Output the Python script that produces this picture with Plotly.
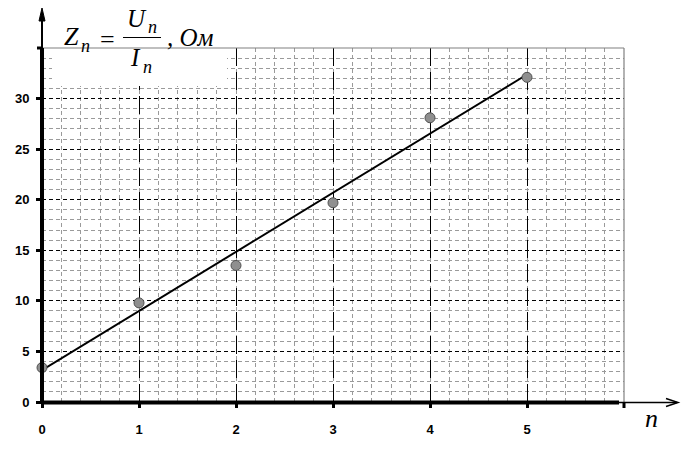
import numpy as np
import plotly.graph_objects as go

# ---- data ----
n_values = [0, 1, 2, 3, 4, 5]
z_values = [3.4, 9.8, 13.5, 19.7, 28.1, 32.1]
x_tick_vals = [0, 1, 2, 3, 4, 5]
x_tick_text = ["0", "1", "2", "3", "4", "5"]
y_tick_vals = [0, 5, 10, 15, 20, 25, 30]
y_tick_text = ["0", "5", "10", "15", "20", "25", "30"]

# least-squares trend line through the measured points
slope, intercept = np.polyfit(n_values, z_values, 1)
fit_x = [0, 5]
fit_y = [intercept + slope * v for v in fit_x]

W, H = 687, 450
L, R, T, B = 42, 624, 48, 402  # plot area in page pixels


def px(x):
    return (x - L) / (R - L)


def py(y):
    return (B - y) / (B - T)


fig = go.Figure()
fig.add_trace(go.Scatter(x=fit_x, y=fit_y, mode="lines",
                         line=dict(color="black", width=2), hoverinfo="skip",
                         showlegend=False, cliponaxis=False))
fig.add_trace(go.Scatter(x=n_values, y=z_values, mode="markers",
                         marker=dict(size=10, color="#8f8f8f",
                                     line=dict(color="#505050", width=1)),
                         showlegend=False, cliponaxis=False))

tickfont = dict(family="Liberation Sans", size=13, color="black", weight="bold")

fig.update_xaxes(range=[0, 6], tickmode="array", tickvals=x_tick_vals,
                 ticktext=x_tick_text, ticks="outside", ticklen=5, tickwidth=3,
                 tickcolor="black", tickfont=tickfont, ticklabelstandoff=10,
                 showgrid=True, gridcolor="black", gridwidth=1,
                 griddash="18px,6px", zeroline=False, showline=False,
                 minor=dict(dtick=0.2, tick0=0, showgrid=True, gridcolor="#9a9a9a",
                            gridwidth=1, griddash="4px,3px", ticks=""),
                 automargin=False, fixedrange=True)
fig.update_yaxes(range=[0, 35], tickmode="array", tickvals=y_tick_vals,
                 ticktext=y_tick_text, ticks="outside", ticklen=5, tickwidth=3,
                 tickcolor="black", tickfont=tickfont, ticklabelstandoff=4,
                 showgrid=True, gridcolor="black", gridwidth=1,
                 griddash="4px,3px", zeroline=False, showline=False,
                 minor=dict(dtick=1, tick0=0, showgrid=True, gridcolor="#9a9a9a",
                            gridwidth=1, griddash="4px,3px", ticks=""),
                 automargin=False, fixedrange=True)

shapes = []


def seg(x0, y0, x1, y1, color="black", width=1):
    shapes.append(dict(type="line", xref="paper", yref="paper",
                       x0=px(x0), y0=py(y0), x1=px(x1), y1=py(y1),
                       line=dict(color=color, width=width)))


# white box behind the formula
shapes.append(dict(type="rect", xref="paper", yref="paper",
                   x0=px(52), x1=px(227), y0=py(86), y1=py(2),
                   fillcolor="white", line=dict(width=0), layer="above"))
# gray frame top / right
seg(L, T, R, T, color="#808080", width=1.2)
seg(R, T, R, B, color="#808080", width=1.2)
# extra ticks (6 on x, 35 on y)
seg(R, B, R, B + 6, width=3)
seg(L - 5, T, L, T, width=3)
# axes
seg(L, B + 1, L, T, width=4)
seg(L, T, L, 18, width=2)
seg(L - 1, B + 0.5, 619, B + 0.5, width=4)
seg(617, B + 0.5, 677, B + 0.5, width=1.5)
# arrowheads
shapes.append(dict(type="path", xref="paper", yref="paper",
                   path=f"M {px(39)},{py(21)} L {px(42)},{py(8)} L {px(45)},{py(21)} Z",
                   fillcolor="black", line=dict(color="black", width=1)))
shapes.append(dict(type="path", xref="paper", yref="paper",
                   path=f"M {px(666)},{py(398.5)} L {px(678)},{py(402.5)} L {px(666)},{py(406.5)}",
                   line=dict(color="black", width=1.5)))
# fraction bar
seg(123, 37.5, 161, 37.5, width=1.2)

annotations = []


def txt(x, y, s, size, anchor="center"):
    annotations.append(dict(xref="paper", yref="paper", x=px(x), y=py(y),
                            text=s, showarrow=False, xanchor=anchor,
                            yanchor="middle",
                            font=dict(family="Liberation Serif", size=size,
                                      color="black")))


txt(71.5, 36, "<i>Z</i>", 26)
txt(85, 46, "<i>n</i>", 18)
txt(107.5, 40, "=", 26)
txt(137, 18.5, "<i>U</i>", 25)
txt(152, 27, "<i>n</i>", 18)
txt(135, 57, "<i>I</i>", 25)
txt(147.5, 67, "<i>n</i>", 18)
txt(165, 37, "<i>, Ом</i>", 25, anchor="left")
txt(651, 418, "<i>n</i>", 26)

fig.update_layout(width=W, height=H,
                  margin=dict(l=L, r=W - R, t=T, b=H - B),
                  paper_bgcolor="white", plot_bgcolor="white",
                  shapes=shapes, annotations=annotations, showlegend=False)

fig.write_html("out.html", config={"displayModeBar": False},
               post_script="document.body.style.margin='0';document.body.style.padding='0';")
